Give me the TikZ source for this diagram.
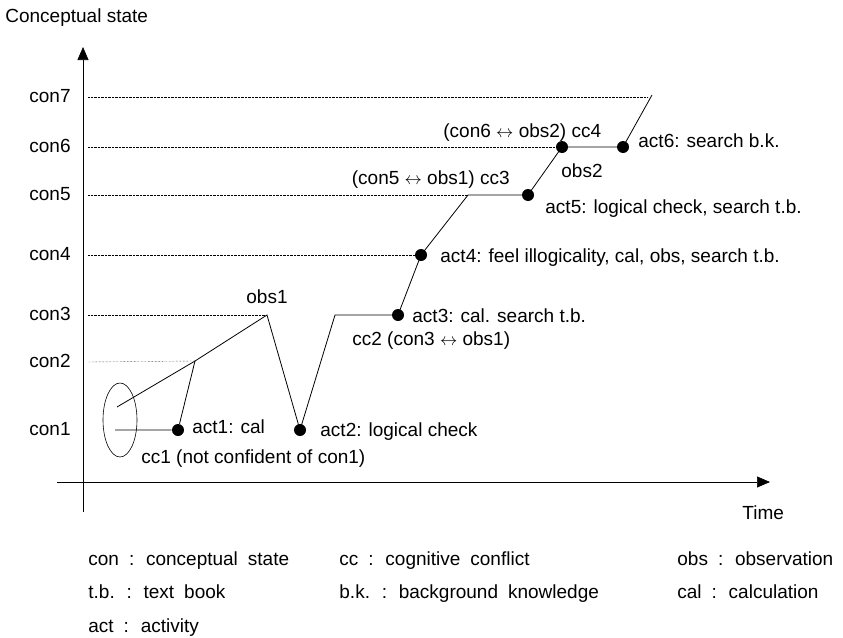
\documentclass[tikz,border=0pt]{standalone}
\usepackage{fontspec}
\setmainfont{Liberation Sans}
\usetikzlibrary{shapes,arrows.meta,positioning,calc}
\newcommand{\widespace}{\spaceskip=10pt\relax}

\begin{document}
\begin{tikzpicture}[x=1pt,y=-1pt,line width=0.8pt,
	dot/.style={circle,fill=black,inner sep=0pt,minimum size=12pt},
	lbl/.style={inner sep=0pt,anchor=base west,font=\fontsize{19}{21}\selectfont},
	legend/.style={lbl,font=\fontsize{19}{21}\selectfont\widespace},
	guide/.style={densely dotted,line width=0.4pt},
	axis/.style={line width=0.7pt,-{Triangle[length=13pt,width=11pt]}}]
	\useasboundingbox (0,0) rectangle (843,637);
	% axes
	\coordinate (ybot) at (83,512);
	\coordinate (ytop) at (83,47);
	\coordinate (xlft) at (57,482);
	\coordinate (xrgt) at (770,482);
	\draw[axis] (ybot) -- (ytop);
	\draw[axis] (xlft) -- (xrgt);
	\node[lbl] (ylab) at (5,23) {Conceptual state};
	\node[lbl] (xlab) at (742,519) {Time};
	% levels
	\foreach \n/\y in {1/430,2/362,3/315,4/255,5/195,6/147,7/97} {
		\node[lbl,anchor=base east] (con\n) at (71,\y+5) {con\n};
		\coordinate (g\n) at (88,\y);
	}
	% path points
	\coordinate (c1) at (115,430);
	\coordinate (p0) at (117,407);
	\coordinate (j1) at (195,361);
	\coordinate (obs1) at (267,315);
	\coordinate (k3) at (335,315);
	\coordinate (k5) at (468,195);
	\coordinate (e7) at (648,97);
	\coordinate (top) at (652,95);
	\node[dot] (act1) at (178,430) {};
	\node[dot] (act2) at (300,430) {};
	\node[dot] (act3) at (398,315) {};
	\node[dot] (act4) at (421,255) {};
	\node[dot] (act5) at (528,195) {};
	\node[dot] (obs2) at (562,147) {};
	\node[dot] (act6) at (623,147) {};
	\node[draw,ellipse,line width=0.6pt,minimum width=34pt,minimum height=74pt,inner sep=0pt] (cc1) at (120,420) {};
	% dotted guides
	\draw[guide] (g2) -- (j1);
	\draw[guide] (g3) -- (obs1);
	\draw[guide] (g4) -- (act4);
	\draw[guide] (g5) -- (k5);
	\draw[guide] (g6) -- (obs2);
	\draw[guide] (g7) -- (e7);
	% course of the states
	\draw (c1) -- (act1) -- (j1);
	\draw (p0) -- (j1) -- (obs1) -- (act2.center) -- (k3) -- (act3.center) -- (act4.center) -- (k5)
		-- (act5.center) -- (obs2.center) -- (act6.center) -- (top);
	% labels
	\node[lbl,anchor=base] (obs1lab) at (267,303) {obs1};
	\node[lbl] (act1lab) at (192,433) {act1: cal};
	\node[lbl] (act2lab) at (320,436) {act2: logical check};
	\node[lbl] (cc1lab) at (141,463) {cc1 (not confident of con1)};
	\node[lbl] (act3lab) at (412,322) {act3: cal. search t.b.};
	\node[lbl] (cc2lab) at (352,345) {cc2 (con3 $\leftrightarrow$ obs1)};
	\node[lbl] (act4lab) at (440,262) {act4: feel illogicality, cal, obs, search t.b.};
	\node[lbl,anchor=base east] (cc3lab) at (510,184) {(con5 $\leftrightarrow$ obs1) cc3};
	\node[lbl] (act5lab) at (545,213) {act5: logical check, search t.b.};
	\node[lbl] (obs2lab) at (561,177) {obs2};
	\node[lbl] (cc4lab) at (443,137) {(con6 $\leftrightarrow$ obs2) cc4};
	\node[lbl] (act6lab) at (638,147) {act6: search b.k.};
	% legend
	\node[legend] (lg1) at (88,565) {con : conceptual state};
	\node[legend] (lg2) at (339,565) {cc : cognitive conflict};
	\node[legend] (lg3) at (677,565) {obs : observation};
	\node[legend] (lg4) at (88,598) {t.b. : text book};
	\node[legend] (lg5) at (339,598) {b.k. : background knowledge};
	\node[legend] (lg6) at (677,598) {cal : calculation};
	\node[legend] (lg7) at (88,632) {act : activity};
\end{tikzpicture}
\end{document}
